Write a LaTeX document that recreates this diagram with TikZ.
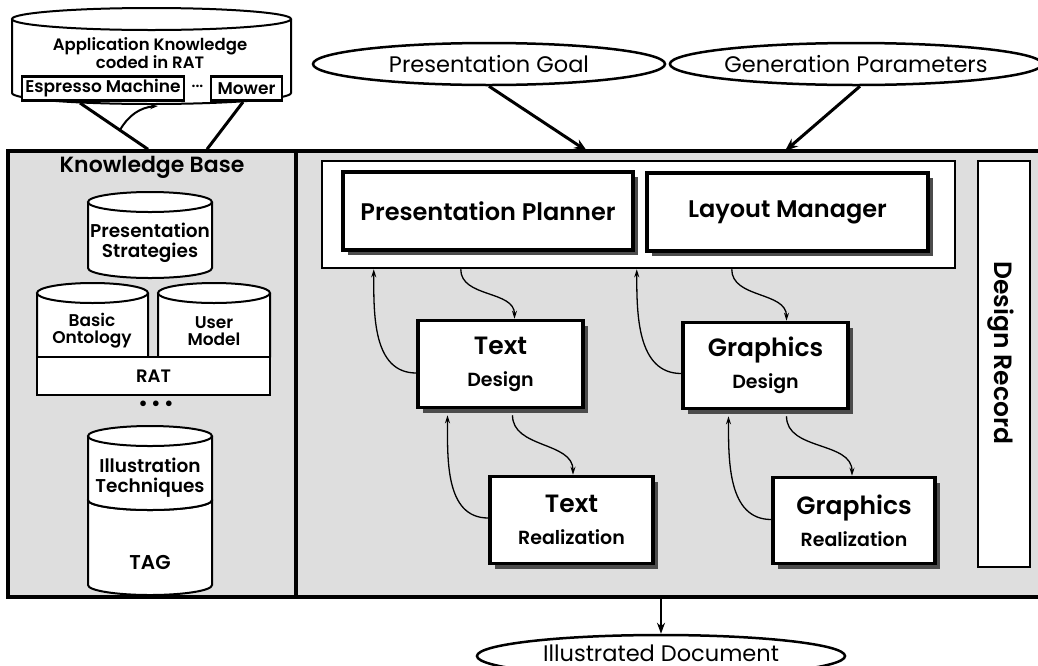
\documentclass[tikz,border=0pt]{standalone}
\usepackage{fontspec}
\setmainfont{Poppins}[BoldFont={Poppins SemiBold}]
\usetikzlibrary{shapes.geometric,shadows,arrows.meta}

% trumma: x-vanster, x-hoger, y-topp, y-botten, y-radie
\newcommand{\drum}[5]{%
  \draw[drum] (#1,#3) -- (#1,#4) arc[start angle=180,end angle=360,x radius={(#2-#1)/2},y radius=#5] -- (#2,#3);
  \draw[drum] ({(#1+#2)/2},#3) ellipse[x radius={(#2-#1)/2},y radius=#5];
}
\newcommand{\duo}[2]{{\fontsize{25}{32}\selectfont #1}\\#2}

\begin{document}
\begin{tikzpicture}[x=1pt,y=1pt,
  panel/.style={draw,line width=3.5pt,fill=black!13,inner sep=0pt},
  box/.style={draw,line width=3.5pt,fill=white,inner sep=0pt,align=center,font=\bfseries\fontsize{19}{32}\selectfont,
    drop shadow={shadow xshift=5pt,shadow yshift=-5pt,fill=black!70,opacity=1}},
  plain/.style={draw,line width=2pt,fill=white,inner sep=0pt,align=center},
  oval/.style={ellipse,draw,line width=2.5pt,fill=white,inner sep=0pt,font=\fontsize{22.5}{24}\selectfont},
  drum/.style={draw,line width=2pt,fill=white},
  dbtext/.style={align=center,font=\bfseries\fontsize{18.5}{20}\selectfont},
  feed/.style={line width=3pt,-{Stealth[length=13pt,width=10pt]}},
  flow/.style={line width=1.3pt,-{Stealth[length=8pt,width=5pt]}}]
  \useasboundingbox (0,0) rectangle (1038,-665);
  \clip (0,0) rectangle (1038,-665);
  % Paneler
  \node[panel,minimum width=288pt,minimum height=446pt] (kb) at (152,-374) {};
  \node[panel,minimum width=749pt,minimum height=446pt] (engine) at (670.5,-374) {};
  \node[font=\bfseries\fontsize{22}{24}\selectfont] (kbtitle) at (152,-167) {Knowledge Base};
  % Kunskapsbas
  \drum{88}{212}{-202}{-268}{10}
  \node[dbtext] (strat) at (150,-243) {Presentation\\Strategies};
  \drum{37}{148}{-293}{-357}{10}
  \drum{158}{270}{-293}{-357}{10}
  \node[dbtext,font=\bfseries\fontsize{17}{17}\selectfont] (onto) at (92,-331) {Basic\\Ontology};
  \node[dbtext,font=\bfseries\fontsize{17}{17}\selectfont] (user) at (214,-331) {User\\Model};
  \node[plain,minimum width=233pt,minimum height=38pt,font=\bfseries\fontsize{18}{20}\selectfont] (rat) at (153.5,-376) {RAT};
  \node[font=\bfseries\fontsize{20}{20}\selectfont] (more) at (156,-406) {\textbullet\,\textbullet\,\textbullet};
  \drum{88}{212}{-500}{-585}{10}
  \drum{88}{212}{-436}{-500}{10}
  \node[dbtext] (illu) at (150,-478) {Illustration\\Techniques};
  \node[dbtext,font=\bfseries\fontsize{20}{22}\selectfont] (tag) at (150,-562) {TAG};
  % Tillampningskunskap
  \drum{12}{291}{-19}{-93}{11}
  \node[dbtext,font=\bfseries\fontsize{16.5}{14}\selectfont] (appl) at (150,-53) {Application Knowledge\\coded in RAT};
  \node[plain,line width=2.5pt,minimum width=162pt,minimum height=24pt,font=\bfseries\fontsize{17}{18}\selectfont] (espresso) at (103,-88.5) {Espresso Machine};
  \node[font=\bfseries\fontsize{15}{16}\selectfont] (adots) at (197.5,-86) {...};
  \node[plain,line width=2.5pt,minimum width=71pt,minimum height=24pt,font=\bfseries\fontsize{17}{18}\selectfont] (mower) at (246.5,-88.5) {Mower};
  \coordinate (appl-l) at (80,-103);
  \coordinate (appl-r) at (243,-102);
  \coordinate (lift) at (120,-130);
  \coordinate (applbot) at (158,-106);
  \draw[line width=3pt] (appl-l) -- ([xshift=-4pt]kb.north);
  \draw[line width=3pt] (appl-r) -- ([xshift=55pt]kb.north);
  \draw[flow,line width=2pt] (lift) to[out=60,in=185] (applbot);
  % Planering
  \node[plain,line width=2.5pt,minimum width=633pt,minimum height=107pt] (plan) at (638.5,-214.5) {};
  \node[box,minimum width=290pt,minimum height=78pt,font=\bfseries\fontsize{24}{26}\selectfont] (planner) at (488,-211) {Presentation Planner};
  \node[box,minimum width=281pt,minimum height=78pt,font=\bfseries\fontsize{24}{26}\selectfont] (layout) at (787.5,-212) {Layout Manager};
  \node[plain,line width=2.5pt,minimum width=52pt,minimum height=406pt] (record) at (1004,-364) {};
  \node[rotate=-90,font=\bfseries\fontsize{25}{27}\selectfont] (recordtext) at (1001,-353) {Design Record};
  % Design och realisering
  \node[box,minimum width=165pt,minimum height=87pt] (tdes) at (500.5,-364) {\duo{Text}{Design}};
  \node[box,minimum width=165pt,minimum height=86pt] (gdes) at (765.5,-365.5) {\duo{Graphics}{Design}};
  \node[box,minimum width=163pt,minimum height=87pt] (treal) at (571.5,-520) {\duo{Text}{Realization}};
  \node[box,minimum width=162pt,minimum height=86pt] (greal) at (854,-520.5) {\duo{Graphics}{Realization}};
  \draw[flow] ([yshift=-9pt]tdes.west) to[out=180,in=-90] ([xshift=53pt]plan.south west);
  \draw[flow] ([xshift=140pt]plan.south west) to[out=-90,in=90] ([xshift=14pt]tdes.north);
  \draw[flow] ([yshift=-8pt]gdes.west) to[out=180,in=-90] ([xshift=316pt]plan.south west);
  \draw[flow] ([xshift=411pt]plan.south west) to[out=-90,in=90] ([xshift=21pt]gdes.north);
  \draw[flow] ([yshift=2pt]treal.west) to[out=180,in=-90] ([xshift=-53pt,yshift=-6pt]tdes.south);
  \draw[flow] ([xshift=12pt,yshift=-6pt]tdes.south) to[out=-90,in=90] ([xshift=1.5pt]treal.north);
  \draw[flow] ([yshift=1pt]greal.west) to[out=180,in=-90] ([xshift=-37pt,yshift=-6pt]gdes.south);
  \draw[flow] ([xshift=21pt,yshift=-6pt]gdes.south) to[out=-90,in=90] ([xshift=-2pt]greal.north);
  % In och ut
  \node[oval,minimum width=352pt,minimum height=42pt] (goal) at (489,-64) {Presentation Goal};
  \node[oval,minimum width=348pt,minimum height=42pt] (params) at (856,-64) {Generation Parameters};
  \node[oval,minimum width=368pt,minimum height=42pt] (doc) at (661,-656) {\raisebox{5pt}{Illustrated Document}};
  \coordinate (goal-in) at (587,-151);
  \coordinate (params-in) at (785,-151);
  \draw[feed] (goal.south) -- (goal-in);
  \draw[feed] ([xshift=4pt]params.south) -- (params-in);
  \draw[feed,line width=2pt,-{Stealth[length=11pt,width=8pt]}] (doc.north |- engine.south) -- (doc.north);
\end{tikzpicture}
\end{document}
